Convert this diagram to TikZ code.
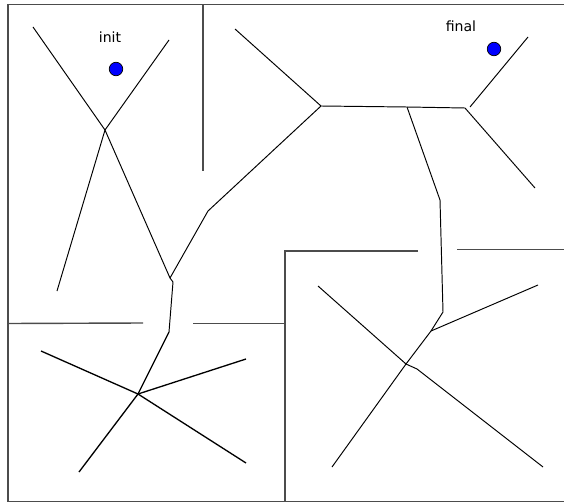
\documentclass[tikz,border=0pt]{standalone}
\usepackage{fontspec}
\setmainfont{DejaVu Sans}
\usetikzlibrary{positioning}

\begin{document}
\begin{tikzpicture}[
			x=0.02cm,y=-0.02cm,
			wall/.style={draw=black!70,line width=0.8pt},
			branch/.style={draw=black,line width=0.55pt},
			thick branch/.style={branch,line width=0.75pt},
			goal/.style={circle,draw=black,line width=0.4pt,fill=blue,minimum size=0.27cm,inner sep=0pt},
			lbl/.style={font=\fontsize{8}{10}\selectfont,inner sep=0pt}
			]
			
			\useasboundingbox (0,0) rectangle (564,503);
			
			\draw[wall] (570,4.5) -- (8,4.5) -- (8,501.5) -- (570,501.5);
			\draw[wall] (203,4.5) -- (203,171);
			\draw[wall] (8,323.5) -- (143,323);
			\draw[wall] (193,323.5) -- (285,323.5);
			\draw[wall] (418,251) -- (285,251) -- (285,501.5);
			\draw[wall] (457,249.5) -- (570,249.5);
			
			\node[lbl] (init) at (110,37) {init};
			\node[goal] (start) at (116,69) {};
			\node[lbl] (final) at (461,26) {final};
			\node[goal] (goalpt) at (494,49) {};
			
			\coordinate (a1) at (33,27);
			\coordinate (a2) at (169,40);
			\coordinate (j1) at (105,130);
			\coordinate (a3) at (57,291);
			\coordinate (j2) at (170,278);
			\coordinate (j3) at (208,211);
			\coordinate (j4) at (321,106);
			\coordinate (a4) at (235,29);
			\coordinate (j5) at (173,282);
			\coordinate (j6) at (169,332);
			\coordinate (j7) at (138,394);
			\coordinate (b1) at (41,351);
			\coordinate (b2) at (246,359);
			\coordinate (b3) at (246,463);
			\coordinate (b4) at (79,472);
			\coordinate (j8) at (407,107);
			\coordinate (j9) at (465,108);
			\coordinate (c0) at (470,107);
			\coordinate (c1) at (528,37);
			\coordinate (c2) at (535,188);
			\coordinate (j10) at (440,200);
			\coordinate (j11) at (443,312);
			\coordinate (j12) at (431,331);
			\coordinate (c3) at (538,285);
			\coordinate (j13) at (406,364);
			\coordinate (c4) at (318,286);
			\coordinate (j14) at (417,369);
			\coordinate (c5) at (543,467);
			\coordinate (c6) at (332,467);
			
			\draw[branch] (a1)--(j1);
			\draw[branch] (a2)--(j1);
			\draw[branch] (j1)--(a3);
			\draw[branch] (j1)--(j2);
			\draw[branch] (j2)--(j3)--(j4);
			\draw[branch] (a4)--(j4);
			\draw[branch] (j2)--(j5)--(j6);
			\draw[thick branch] (j6)--(j7);
			\draw[thick branch] (j7)--(b1);
			\draw[thick branch] (j7)--(b2);
			\draw[thick branch] (j7)--(b3);
			\draw[thick branch] (j7)--(b4);
			\draw[branch] (j4)--(j8)--(j9);
			\draw[branch] (c0)--(c1);
			\draw[branch] (j9)--(c2);
			\draw[branch] (j8)--(j10)--(j11)--(j12)--(j13);
			\draw[branch] (j12)--(c3);
			\draw[branch] (j13)--(c4);
			\draw[branch] (j13)--(j14)--(c5);
			\draw[branch] (j13)--(c6);
			
		\end{tikzpicture}
\end{document}
